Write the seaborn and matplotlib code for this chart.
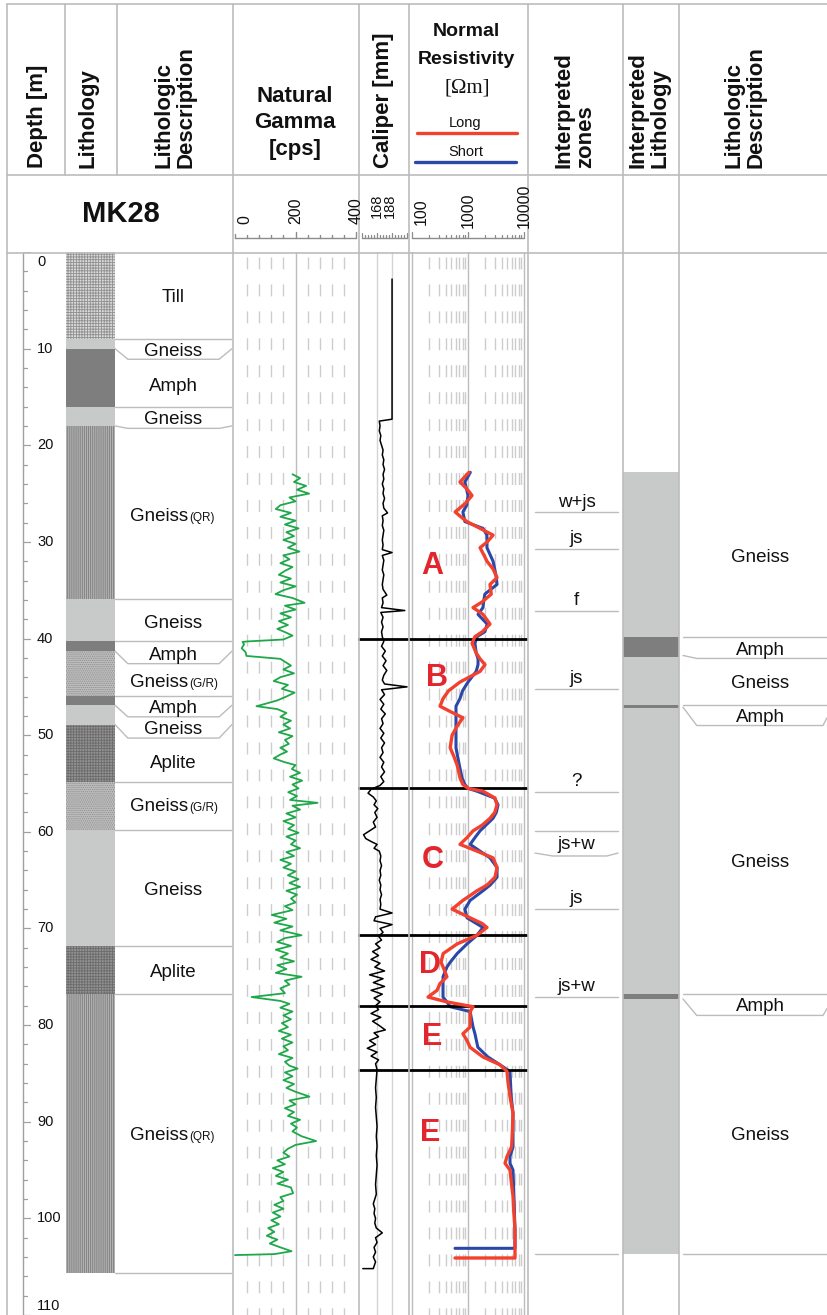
import numpy as np
import matplotlib
matplotlib.use("Agg")
import matplotlib.pyplot as plt
import seaborn as sns
from matplotlib.lines import Line2D
from matplotlib.transforms import blended_transform_factory

# ------ Data ------
# lithology log (left)
lith_top = [0.0, 9.0, 10.0, 16.0, 18.0, 35.9, 40.3, 41.3, 45.9, 46.9, 48.9, 54.8, 59.8, 71.8, 76.8]
lith_bot = [9.0, 10.0, 16.0, 18.0, 35.9, 40.3, 41.3, 45.9, 46.9, 48.9, 54.8, 59.8, 71.8, 76.8, 105.7]
lith_kind = ["till", "gneiss", "amph", "gneiss", "gneiss_qr", "gneiss", "amph", "gneiss_gr",
             "amph", "gneiss", "aplite", "gneiss_gr", "gneiss", "aplite", "gneiss_qr"]

desc_text = ["Till", "Gneiss", "Amph", "Gneiss", "Gneiss", "Gneiss", "Amph", "Gneiss",
             "Amph", "Gneiss", "Aplite", "Gneiss", "Gneiss", "Aplite", "Gneiss"]
desc_sub = ["", "", "", "", "(QR)", "", "", "(G/R)", "", "", "", "(G/R)", "", "", "(QR)"]
desc_depth = [4.5, 10.1, 13.7, 17.1, 27.1, 38.2, 41.5, 44.3, 47.0, 49.2, 52.7, 57.2, 65.8, 74.3, 91.2]
desc_lines = [9.0, 16.0, 35.9, 40.3, 45.9, 54.8, 59.8, 71.8, 76.8, 105.7]
desc_callouts = [(10.0, 11.1), (18.0, 18.25), (41.3, 42.6), (46.9, 48.1), (48.9, 50.3)]

# natural gamma [cps]
gamma_depth = [23.0, 23.4, 23.8, 24.2, 24.6, 25.0, 25.4, 25.8, 26.2, 26.6, 27.0, 27.4, 27.8, 28.2,
               28.6, 29.0, 29.4, 29.8, 30.2, 30.6, 31.0, 31.4, 31.8, 32.2, 32.6, 33.0, 33.4, 33.8,
               34.2, 34.6, 35.0, 35.4, 35.8, 36.3, 36.6, 37.0, 37.4, 37.8, 38.2, 38.6, 39.0, 39.4,
               39.7, 40.1, 40.3, 40.35, 40.6, 41.0, 41.4, 41.8, 42.1, 42.4, 42.8, 43.2, 43.6, 44.0,
               44.4, 44.8, 45.2, 45.6, 46.0, 46.4, 46.8, 47.0, 47.3, 47.7, 48.1, 48.5, 48.9, 49.3,
               49.7, 50.1, 50.5, 50.9, 51.3, 51.7, 52.0, 52.4, 52.8, 53.1, 53.5, 53.9, 54.3, 54.7,
               55.1, 55.5, 55.9, 56.3, 56.7, 57.0, 57.3, 57.7, 58.1, 58.5, 58.9, 59.3, 59.7, 60.1,
               60.5, 60.9, 61.3, 61.7, 62.1, 62.5, 62.9, 63.3, 63.7, 64.1, 64.5, 64.9, 65.3, 65.7,
               66.1, 66.5, 66.9, 67.3, 67.7, 68.1, 68.6, 69.0, 69.4, 69.8, 70.2, 70.7, 71.0, 71.4,
               71.8, 72.2, 72.6, 73.0, 73.4, 73.8, 74.2, 74.6, 75.0, 75.4, 75.8, 76.2, 76.7, 77.1,
               77.5, 77.8, 78.2, 78.6, 79.0, 79.4, 79.8, 80.2, 80.6, 81.0, 81.4, 81.8, 82.2, 82.6,
               83.0, 83.4, 83.8, 84.2, 84.5, 84.9, 85.3, 85.7, 86.1, 86.5, 86.9, 87.4, 87.8, 88.2,
               88.6, 89.0, 89.4, 89.8, 90.2, 90.6, 91.0, 91.5, 92.0, 92.4, 92.8, 93.2, 93.6, 94.0,
               94.4, 94.8, 95.2, 95.6, 96.0, 96.4, 96.8, 97.4, 97.8, 98.2, 98.6, 99.0, 99.4, 99.8,
               100.2, 100.6, 101.0, 101.4, 101.8, 102.2, 102.6, 103.0, 103.4, 103.7, 103.8]
gamma_cps = [190, 215, 195, 235, 205, 245, 180, 200, 150, 135, 185, 150, 200, 165,
             210, 170, 195, 160, 200, 175, 213, 160, 180, 150, 190, 165, 145, 185,
             150, 200, 160, 134, 190, 230, 165, 200, 150, 185, 145, 175, 140, 170,
             190, 160, 40, 25, 30, 22, 35, 38, 150, 165, 185, 160, 195, 150,
             128, 175, 155, 197, 170, 140, 95, 71, 140, 170, 150, 185, 160, 182,
             145, 190, 165, 178, 150, 172, 150, 128, 165, 200, 188, 215, 182, 222,
             190, 210, 176, 205, 182, 273, 190, 215, 170, 200, 160, 195, 176, 210,
             170, 200, 185, 215, 170, 195, 150, 185, 160, 200, 175, 210, 180, 215,
             170, 205, 185, 200, 165, 190, 122, 170, 130, 190, 150, 220, 165, 140,
             185, 135, 175, 150, 195, 140, 170, 135, 220, 165, 180, 150, 165, 55,
             150, 180, 150, 190, 160, 185, 155, 175, 145, 185, 155, 190, 160, 175,
             145, 190, 165, 180, 207, 165, 190, 160, 195, 170, 200, 246, 180, 200,
             165, 195, 175, 215, 185, 205, 190, 220, 268, 200, 175, 160, 180, 140,
             165, 125, 160, 135, 175, 140, 185, 192, 150, 160, 130, 160, 125, 150,
             120, 145, 110, 130, 105, 140, 115, 150, 187, 130, 0]

# caliper [mm]
cal_depth = [2.8, 17.3, 17.5, 18.0, 18.5, 19.0, 19.5, 20.0, 20.5, 21.0, 21.5, 22.0, 22.5, 23.0,
             23.5, 24.0, 24.5, 25.0, 25.5, 26.0, 26.5, 27.0, 27.3, 27.8, 28.3, 28.8, 29.3, 29.8,
             30.3, 30.8, 31.1, 31.4, 31.9, 32.4, 32.9, 33.4, 33.9, 34.4, 34.9, 35.5, 35.8, 36.3,
             36.8, 37.1, 37.3, 37.8, 38.3, 38.8, 39.3, 39.8, 40.3, 40.8, 41.3, 41.8, 42.3, 42.8,
             43.3, 43.8, 44.3, 44.7, 45.0, 45.3, 45.8, 46.3, 46.8, 47.3, 47.8, 48.3, 48.8, 49.3,
             49.8, 50.3, 50.8, 51.3, 51.8, 52.3, 52.8, 53.3, 53.8, 54.3, 54.8, 55.2, 55.6, 56.0,
             56.4, 56.8, 57.2, 57.6, 58.0, 58.5, 59.0, 59.5, 59.9, 60.3, 60.7, 61.0, 61.3, 61.7,
             62.0, 62.5, 63.0, 63.5, 64.0, 64.5, 65.0, 65.5, 66.0, 66.5, 67.0, 67.5, 68.0, 68.4,
             68.8, 69.2, 69.6, 70.0, 70.4, 70.8, 71.2, 71.6, 72.0, 72.4, 72.8, 73.2, 73.6, 74.0,
             74.4, 74.8, 75.2, 75.6, 76.0, 76.4, 76.8, 77.2, 77.6, 78.0, 78.4, 78.8, 79.2, 79.6,
             80.0, 80.5, 80.8, 81.2, 81.6, 82.0, 82.4, 82.8, 83.2, 83.6, 84.0, 84.6, 85.5, 86.5,
             87.5, 88.5, 89.5, 90.5, 91.5, 92.5, 93.5, 94.5, 95.5, 96.5, 97.5, 98.5, 99.0, 99.5,
             100.0, 100.5, 101.0, 101.5, 102.0, 102.5, 103.0, 103.5, 104.0, 104.5, 105.2, 105.2]
cal_mm = [188, 188, 171, 172, 171, 173, 172, 174, 176, 175, 177, 176, 178, 176,
          177, 175, 177, 176, 178, 176, 177, 182, 175, 176, 175, 177, 176, 175,
          176, 175, 188, 175, 177, 176, 175, 177, 176, 175, 176, 181, 175, 176,
          174, 205, 173, 176, 174, 176, 174, 175, 177, 174, 179, 175, 180, 176,
          181, 177, 175, 178, 208, 174, 178, 172, 177, 173, 179, 174, 176, 172,
          177, 173, 178, 174, 176, 172, 177, 174, 178, 173, 177, 172, 160, 156,
          163, 167, 164, 169, 165, 168, 163, 166, 158, 150, 153, 160, 168, 164,
          171, 173, 172, 174, 172, 173, 171, 173, 172, 174, 172, 173, 172, 188,
          166, 164, 188, 172, 176, 170, 174, 166, 172, 162, 170, 160, 172, 165,
          178, 158, 176, 163, 178, 160, 175, 164, 172, 166, 170, 160, 173, 162,
          170, 179, 164, 170, 158, 166, 155, 168, 160, 170, 166, 168, 167, 166,
          167, 166, 167, 168, 167, 168, 167, 168, 167, 166, 167, 163, 165, 164,
          166, 165, 167, 175, 166, 168, 164, 166, 163, 166, 163, 149]

# normal resistivity [Ohm m]
long_depth = [22.8, 23.8, 24.5, 25.2, 26.0, 26.9, 27.5, 27.9, 28.6, 29.3, 30.0, 30.6, 31.3, 32.0,
              32.8, 33.7, 34.4, 35.4, 36.2, 36.8, 37.5, 38.5, 39.3, 39.8, 40.5, 41.5, 42.1, 42.7,
              43.4, 44.5, 45.4, 46.2, 47.0, 47.6, 48.2, 49.0, 50.0, 51.3, 52.2, 53.1, 54.4, 55.1,
              55.5, 55.8, 56.5, 57.2, 58.0, 58.6, 59.3, 59.9, 60.6, 61.3, 62.0, 62.7, 63.7, 64.7,
              65.5, 66.1, 67.1, 68.0, 68.9, 69.5, 69.9, 70.7, 71.6, 72.6, 73.5, 74.0, 75.0, 75.7,
              76.4, 77.1, 77.6, 78.1, 78.6, 79.5, 80.2, 80.9, 81.6, 82.3, 83.3, 84.1, 84.8, 86.0,
              87.4, 89.1, 91.0, 92.6, 93.6, 94.3, 95.0, 96.5, 97.7, 99.5, 101.2, 103.0, 104.1, 104.1]
long_ohm = [1040, 720, 950, 1180, 900, 590, 780, 960, 1640, 2800, 2200, 1640, 1900, 2180,
            2800, 3300, 2470, 2600, 1800, 1230, 1850, 2470, 1800, 1330, 1180, 1400, 1640, 2010,
            1640, 720, 450, 360, 316, 500, 810, 650, 520, 480, 560, 640, 720, 810,
            1000, 1850, 3030, 3300, 3000, 2470, 1800, 1230, 960, 720, 1450, 2800, 3300, 3030,
            2200, 1450, 810, 520, 1090, 1800, 2180, 1450, 640, 360, 330, 360, 420, 316,
            280, 193, 420, 1230, 1090, 1090, 1090, 810, 960, 1090, 1850, 3700, 4970, 5200,
            5620, 6360, 6200, 6000, 4970, 4580, 5620, 6000, 6360, 6600, 6900, 6900, 6900, 586]
short_depth = [22.8, 23.8, 25.2, 26.2, 26.9, 27.9, 28.6, 29.3, 30.6, 32.0, 32.8, 33.7, 34.4, 35.4,
               36.2, 36.8, 37.5, 38.5, 39.3, 39.8, 40.5, 41.5, 42.1, 42.7, 43.4, 44.5, 45.4, 46.2,
               47.0, 48.2, 50.0, 51.3, 53.1, 54.4, 55.1, 55.5, 55.8, 56.5, 57.2, 58.0, 58.6, 59.9,
               60.6, 61.3, 62.0, 62.7, 63.7, 64.7, 65.5, 66.1, 67.1, 68.0, 68.9, 69.9, 70.7, 71.6,
               72.6, 73.5, 74.0, 75.0, 76.0, 77.1, 77.6, 78.1, 78.6, 80.2, 80.9, 82.3, 83.3, 84.1,
               84.8, 87.4, 89.1, 92.6, 93.6, 94.3, 95.0, 97.7, 101.2, 103.1, 103.1]
short_ohm = [1100, 880, 1000, 950, 810, 880, 1850, 2180, 2180, 2800, 3000, 3200, 3300, 2000,
             1900, 1850, 1510, 2200, 2000, 1450, 1330, 1400, 1510, 1510, 1400, 1000, 800, 720,
             610, 610, 610, 610, 700, 780, 880, 1000, 1450, 2950, 3440, 3200, 2800, 1640,
             1330, 1090, 1640, 2470, 3300, 3300, 2500, 1850, 1090, 880, 960, 1850, 1450, 960,
             640, 480, 420, 358, 358, 358, 420, 480, 1090, 1230, 1330, 1500, 2270, 3700,
             5620, 5900, 6360, 6360, 5620, 5620, 6360, 6600, 6900, 6900, 586]

# interpreted zones A-E and their boundaries
zone_names = ["A", "B", "C", "D", "E", "E"]
zone_name_depth = [32.5, 44.1, 62.9, 73.8, 81.2, 91.2]
zone_name_x = [432, 437, 433, 430, 432, 430]
zone_bounds = [40.0, 55.5, 70.7, 78.0, 84.6]

# interpreted features column
feat_text = ["w+js", "js", "f", "js", "?", "js+w", "js", "js+w"]
feat_base = [26.4, 30.15, 36.5, 44.65, 55.3, 61.8, 67.4, 76.5]
feat_lines = [26.9, 30.7, 37.1, 45.2, 55.9, 59.9, 68.0, 77.1, 103.7]
feat_callouts = [(62.2, 62.5)]

# interpreted lithology (right)
ilith_top = [22.8, 39.8, 46.9, 76.8]
ilith_bot = [103.7, 41.9, 47.15, 77.3]
ilith_kind = ["gneiss", "amph", "amph", "amph"]
idesc_text = ["Gneiss", "Amph", "Gneiss", "Amph", "Gneiss", "Amph", "Gneiss"]
idesc_depth = [31.4, 41.0, 44.4, 47.9, 62.9, 77.9, 91.2]
idesc_lines = [39.8, 46.9, 76.8, 103.7]
idesc_callouts = [(41.75, 42.06, 42.06), (47.1, 49.0, 48.2), (77.3, 79.0, 78.3)]

depth_ticks = list(range(0, 111, 10))

# ------ Figure layout (pixels of an 827x1315 canvas) ------
W, H, DPI = 827, 1315, 100
TOP = 252
DMAX = 110.0
LINE_COL = "#bcbcbc"
DASH_COL = "#cdcdcd"

sns.set_theme(style="white")
plt.rcParams["font.family"] = ["Liberation Sans", "DejaVu Sans"]
plt.rcParams["hatch.linewidth"] = 0.6

LITH_FACE = {"till": "#dadada", "gneiss": "#c8c9c9", "amph": "#7e7e7e",
             "gneiss_qr": "#b2b2b2", "gneiss_gr": "#bdbdbd", "aplite": "#929292"}
LITH_HATCH = {"till": "++++++", "gneiss": None, "amph": None,
              "gneiss_qr": "||||||||", "gneiss_gr": "........", "aplite": "++++++"}
LITH_EDGE = {"till": "#8f8f8f", "gneiss": "#c8c9c9", "amph": "#7e7e7e",
             "gneiss_qr": "#7c7c7c", "gneiss_gr": "#8f8f8f", "aplite": "#6c6c6c"}

fig = plt.figure(figsize=(W / DPI, H / DPI), dpi=DPI)


def fx(x):
    return x / W


def fy(y):
    return 1 - y / H


def column(x0, x1, xlim=(0, 1), log=False):
    ax = fig.add_axes([fx(x0), 0, fx(x1) - fx(x0), fy(TOP)])
    if log:
        ax.set_xscale("log")
    ax.set_xlim(*xlim)
    ax.set_ylim(DMAX, 0)
    ax.set_axis_off()
    return ax


def fig_line(xs, ys, color=LINE_COL, lw=1.2):
    fig.add_artist(Line2D([fx(x) for x in xs], [fy(y) for y in ys], color=color, lw=lw))


def label(ax, x, depth, s, size=13.5, **kw):
    ax.text(x, depth, s, fontsize=size, ha="center", va="baseline", color="#111111", **kw)


def callout(ax, a, b, x_in=(0.11, 0.89)):
    ax.plot([0, x_in[0], x_in[1], 1], [a, b, b, a], color=LINE_COL, lw=1.0)


# ------ Depth column ------
ax_d = column(7, 65, xlim=(7, 65))
ax_d.plot([23, 23], [0, DMAX], color="#a0a0a0", lw=1.0)
for d in range(0, 111, 2):
    x_end = 30 if d % 10 == 0 else 27
    ax_d.plot([23, x_end], [d, d], color="#a0a0a0", lw=0.9)
for d in depth_ticks:
    va = "top" if d == 0 else ("bottom" if d == 110 else "center")
    yy = 0.3 if d == 0 else (109.8 if d == 110 else d)
    ax_d.text(37, yy, str(d), fontsize=10.5, ha="left", va=va, color="#111111")

# ------ Lithology column ------
ax_l = column(66, 115)
for top, bot, kind in zip(lith_top, lith_bot, lith_kind):
    ax_l.fill_betweenx([top, bot], 0, 1, facecolor=LITH_FACE[kind], hatch=LITH_HATCH[kind],
                       edgecolor=LITH_EDGE[kind], linewidth=0)

# ------ Lithologic description ------
ax_desc = column(115, 232)
for d in desc_lines:
    ax_desc.plot([0, 1], [d, d], color=LINE_COL, lw=1.0)
for a, b in desc_callouts:
    callout(ax_desc, a, b)
for s, sub, d in zip(desc_text, desc_sub, desc_depth):
    if sub:
        ax_desc.text(0.624, d + 0.69, s, fontsize=13.5, ha="right", va="baseline", color="#111111")
        ax_desc.text(0.632, d + 0.69, sub, fontsize=8.5, ha="left", va="baseline", color="#111111")
    else:
        label(ax_desc, 0.5, d + 0.69, s)

# ------ Natural gamma ------
ax_g = column(233, 358, xlim=(-6.6, 406.6))
for v in range(40, 400, 40):
    if v == 200:
        ax_g.plot([v, v], [0, DMAX], color=LINE_COL, lw=1.0)
    else:
        ax_g.plot([v, v], [0, DMAX], color=DASH_COL, lw=1.0, ls=(15.8, (8.6, 10.8)))
sns.lineplot(x=gamma_cps, y=gamma_depth, ax=ax_g, orient="y", sort=False, estimator=None,
             color="#1fa84a", linewidth=1.3)
ax_g.set_xlim(-6.6, 406.6)
ax_g.set_ylim(DMAX, 0)
ax_g.set_axis_off()

# ------ Caliper ------
ax_c = column(358, 409, xlim=(142.6, 210.6))
for v in (168, 188):
    ax_c.plot([v, v], [0, DMAX], color="#d4d4d4", lw=1.0)
sns.lineplot(x=cal_mm, y=cal_depth, ax=ax_c, orient="y", sort=False, estimator=None,
             color="black", linewidth=1.1)
for d in zone_bounds:
    ax_c.axhline(d, color="black", lw=2.0)
ax_c.set_xlim(142.6, 210.6)
ax_c.set_ylim(DMAX, 0)
ax_c.set_axis_off()

# ------ Normal resistivity ------
ax_r = column(409, 528, xlim=(88.4, 11780), log=True)
for dec in (100, 1000):
    for m in range(2, 10):
        v = dec * m
        ax_r.plot([v, v], [0, DMAX], color=DASH_COL, lw=1.0, ls=(15.8, (8.6, 10.8)))
for v in (100, 1000, 10000):
    ax_r.plot([v, v], [0, DMAX], color=LINE_COL, lw=1.0)
sns.lineplot(x=long_ohm, y=long_depth, ax=ax_r, orient="y", sort=False, estimator=None,
             color="#f2412f", linewidth=2.4, zorder=3)
sns.lineplot(x=short_ohm, y=short_depth, ax=ax_r, orient="y", sort=False, estimator=None,
             color="#2a48a8", linewidth=2.2, zorder=2)
for d in zone_bounds:
    ax_r.axhline(d, color="black", lw=2.0)
trans = blended_transform_factory(ax_r.transAxes, ax_r.transData)
for s, d, x in zip(zone_names, zone_name_depth, zone_name_x):
    ax_r.text((x - 409) / 119, d, s, transform=trans, fontsize=22, fontweight="bold",
              color="#e3262e", ha="center", va="center")
ax_r.set_xscale("log")
ax_r.set_xlim(88.4, 11780)
ax_r.set_ylim(DMAX, 0)
ax_r.set_axis_off()

# ------ Interpreted zones ------
ax_z = column(528, 623)
for d in feat_lines:
    ax_z.plot([0.074, 0.947], [d, d], color=LINE_COL, lw=1.0)
for a, b in feat_callouts:
    ax_z.plot([0.074, 0.26, 0.83, 0.947], [a, b, b, a], color=LINE_COL, lw=1.0)
for s, d in zip(feat_text, feat_base):
    label(ax_z, 0.51, d, s)

# ------ Interpreted lithology ------
ax_il = column(623, 679)
for top, bot, kind in zip(ilith_top, ilith_bot, ilith_kind):
    ax_il.fill_betweenx([top, bot], 0, 1, facecolor=LITH_FACE[kind], linewidth=0)

# ------ Lithologic description (right) ------
ax_id = column(679, 827)
for d in idesc_lines:
    ax_id.plot([0.027, 1], [d, d], color=LINE_COL, lw=1.0)
for a, b, c in idesc_callouts:
    ax_id.plot([0.027, 0.12, 0.973, 1.0], [a, b, b, c], color=LINE_COL, lw=1.0)
for s, d in zip(idesc_text, idesc_depth):
    label(ax_id, 0.55, d + 0.69, s)

# ------ Table frame ------
fig_line([7, 827], [4, 4])
fig_line([7, 827], [175, 175])
fig_line([7, 827], [253, 253])
fig_line([7, 7], [4, H])
for x in (65, 117):
    fig_line([x, x], [4, 175])
for x in (232.5, 358.5, 409, 528, 623, 679):
    fig_line([x, x], [4, H])

# ------ Header texts ------
hdr = dict(fontsize=16, fontweight="bold", rotation=90, ha="center", va="bottom",
           multialignment="left", color="#111111")
fig.text(fx(38), fy(168), "Depth [m]", **hdr)
fig.text(fx(88), fy(168), "Lithology", **hdr)
fig.text(fx(175), fy(168), "Lithologic\nDescription", linespacing=1.0, **hdr)
fig.text(fx(383), fy(168), "Caliper [mm]", **hdr)
fig.text(fx(575), fy(168), "Interpreted\nzones", linespacing=1.0, **hdr)
fig.text(fx(649), fy(168), "Interpreted\nLithology", linespacing=1.0, **hdr)
fig.text(fx(745), fy(168), "Lithologic\nDescription", linespacing=1.0, **hdr)

for s, y in (("Natural", 97), ("Gamma", 123), ("[cps]", 150)):
    fig.text(fx(295), fy(y), s, fontsize=16, fontweight="bold", ha="center", va="center",
             color="#111111")
fig.text(fx(466), fy(32), "Normal", fontsize=14, fontweight="bold", ha="center", va="center",
         color="#111111")
fig.text(fx(466), fy(60), "Resistivity", fontsize=14, fontweight="bold", ha="center",
         va="center", color="#111111")
fig.text(fx(467), fy(88), "[\u03a9m]", fontsize=15, family=["Liberation Serif", "DejaVu Serif"],
         ha="center", va="center", color="#111111")
fig.text(fx(465), fy(123), "Long", fontsize=10.5, ha="center", va="center", color="#111111")
fig.text(fx(466), fy(152), "Short", fontsize=10.5, ha="center", va="center", color="#111111")
fig_line([417, 517], [133, 133], color="#f2412f", lw=2.4)
fig_line([415, 516], [162, 162], color="#2a48a8", lw=2.4)

fig.text(fx(121), fy(214), "MK28", fontsize=21, fontweight="bold", ha="center", va="center",
         color="#111111")

# ------ Scale rulers ------
RULER_Y = 238
sc = dict(fontsize=11.5, rotation=90, ha="center", va="bottom", color="#111111")


def gx(v):
    return 235 + v * 0.3025


def cx(v):
    return 357 + (v - 141.3) * 0.75


def rx(v):
    return 412 + 56 * np.log10(v / 100)


fig_line([gx(0), gx(400)], [RULER_Y, RULER_Y], color="#8c8c8c", lw=1.0)
for v in range(0, 401, 40):
    h = 6 if v in (200, 400) else (4 if v == 0 else 3)
    fig_line([gx(v), gx(v)], [RULER_Y, RULER_Y - h], color="#8c8c8c", lw=1.0)
fig.text(fx(245), fy(224), "0", **sc)
fig.text(fx(gx(200)), fy(224), "200", **sc)
fig.text(fx(gx(400)), fy(224), "400", **sc)

fig_line([cx(148), cx(208)], [RULER_Y, RULER_Y], color="#8c8c8c", lw=1.0)
for v in range(148, 209, 4):
    h = 5 if (v - 148) % 20 == 0 else 3
    fig_line([cx(v), cx(v)], [RULER_Y, RULER_Y - h], color="#8c8c8c", lw=0.9)
fig.text(fx(377), fy(218), "168", fontsize=10.5, rotation=90, ha="center", va="bottom",
         color="#111111")
fig.text(fx(390), fy(218), "188", fontsize=10.5, rotation=90, ha="center", va="bottom",
         color="#111111")

fig_line([rx(100), rx(10000)], [RULER_Y, RULER_Y], color="#8c8c8c", lw=1.0)
for dec in (100, 1000):
    for m in range(1, 10):
        v = dec * m
        h = 6 if m == 1 else 3
        fig_line([rx(v), rx(v)], [RULER_Y, RULER_Y - h], color="#8c8c8c", lw=0.9)
fig_line([rx(10000), rx(10000)], [RULER_Y, RULER_Y - 6], color="#8c8c8c", lw=0.9)
fig.text(fx(rx(100) + 9), fy(225), "100", **sc)
fig.text(fx(rx(1000)), fy(228), "1000", **sc)
fig.text(fx(rx(10000)), fy(228), "10000", **sc)

fig.savefig("out.png", dpi=DPI)
